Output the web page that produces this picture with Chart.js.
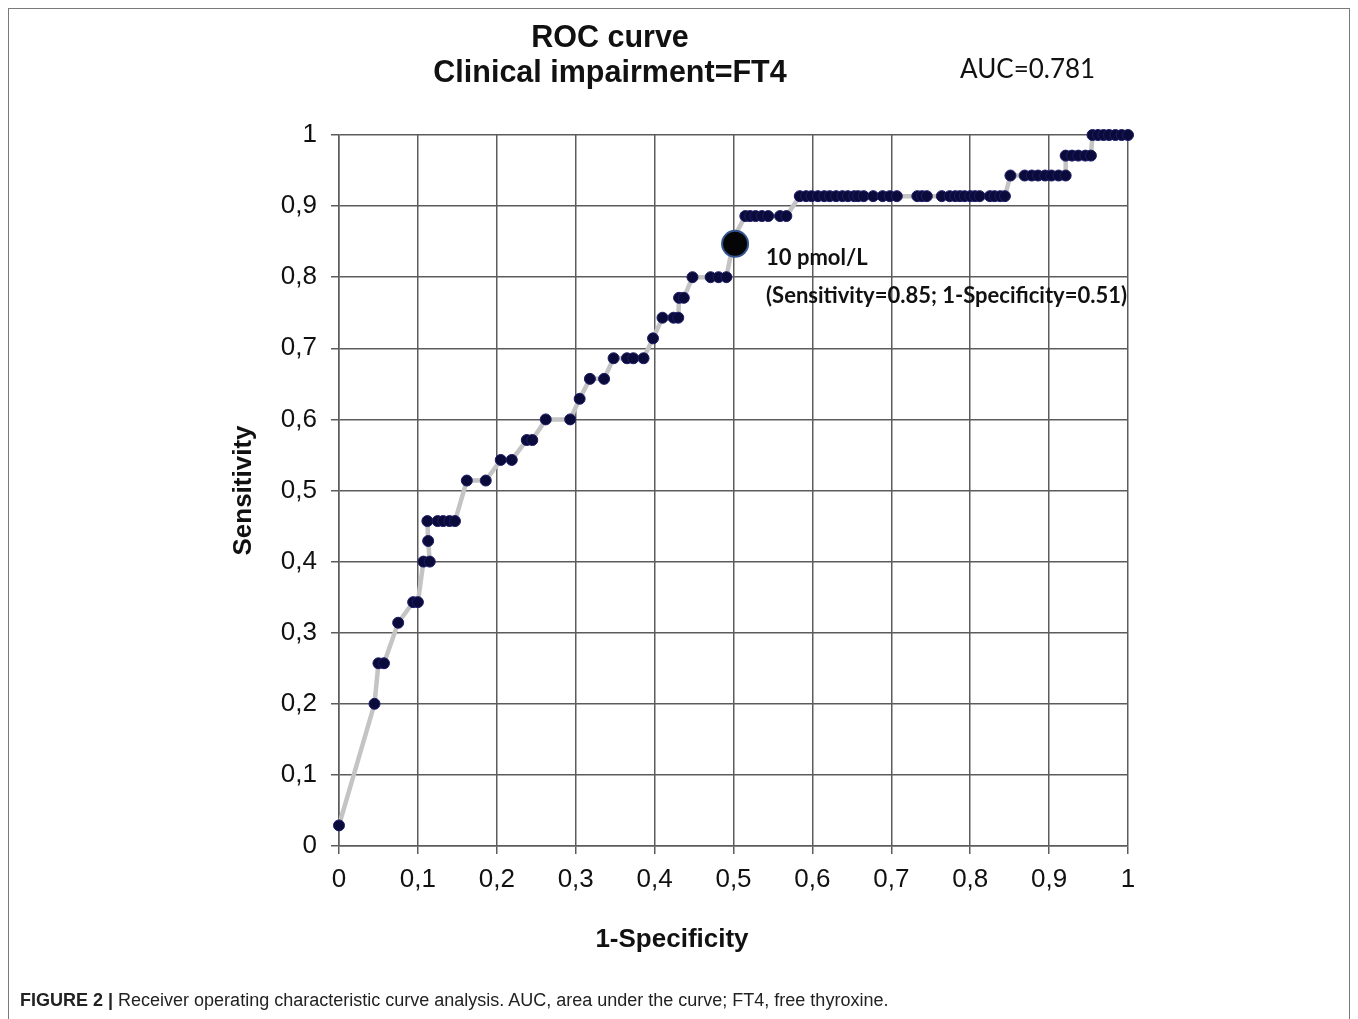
<!DOCTYPE html>
<html>
<head>
<meta charset="utf-8">
<script src="https://cdn.jsdelivr.net/npm/chart.js@4.4.0/dist/chart.umd.min.js"></script>
<style>
body { margin: 0; background: #fff; width: 1358px; height: 1019px; overflow: hidden; position: relative; }
#frame { position: absolute; left: 8px; top: 8px; width: 1342px; height: 1100px; border: 1.5px solid #7a7a7a; box-sizing: border-box; }
#title { position: absolute; left: 360px; top: 19px; width: 500px; text-align: center; font: bold 30.5px "Liberation Sans", Arial, sans-serif; line-height: 35px; color: #111; }
#auc { position: absolute; left: 960px; top: 53px; font: 26px Lato, "Liberation Sans", sans-serif; line-height: 30px; color: #111; }
#xtitle { position: absolute; left: 472px; top: 922px; width: 400px; text-align: center; font: bold 26px "Liberation Sans", Arial, sans-serif; line-height: 32px; color: #111; }
#caption { position: absolute; left: 20px; top: 990px; font: 18px "Liberation Sans", Arial, sans-serif; line-height: 20px; color: #222; }
canvas { position: absolute; left: 0; top: 0; }
</style>
</head>
<body>
<div id="frame"></div>
<canvas id="roc" width="1358" height="1019"></canvas>
<div id="title">ROC curve<br>Clinical impairment=FT4</div>
<div id="auc">AUC=0.781</div>
<div id="xtitle">1-Specificity</div>
<div id="caption"><b>FIGURE 2 |</b> Receiver operating characteristic curve analysis. AUC, area under the curve; FT4, free thyroxine.</div>
<script>
// 1-specificity / sensitivity pairs
var fpr = [0, 0.045, 0.050, 0.057, 0.075, 0.094, 0.100, 0.107, 0.115, 0.113,
    0.112, 0.125, 0.132, 0.140, 0.147, 0.162, 0.186, 0.205, 0.219, 0.238,
    0.245, 0.262, 0.293, 0.305, 0.318, 0.336, 0.348, 0.365, 0.373, 0.386,
    0.398, 0.410, 0.424, 0.430, 0.431, 0.437, 0.448, 0.471, 0.481, 0.491,
    0.501, 0.515, 0.521, 0.528, 0.536, 0.544, 0.559, 0.567,
    0.584, 0.592, 0.599, 0.607, 0.615, 0.622, 0.630, 0.638, 0.645, 0.653,
    0.658, 0.665, 0.677, 0.689, 0.698, 0.707, 0.733, 0.739, 0.745, 0.764,
    0.774, 0.781, 0.787, 0.793, 0.800, 0.806, 0.812, 0.825, 0.831, 0.838, 0.844,
    0.851, 0.869, 0.878, 0.886, 0.895, 0.903, 0.912, 0.921,
    0.921, 0.929, 0.937, 0.946, 0.953,
    0.955, 0.962, 0.969, 0.976, 0.984, 0.992, 1.0];
var tpr = [0.029, 0.2, 0.257, 0.257, 0.314, 0.343, 0.343, 0.4, 0.4, 0.429,
    0.457, 0.457, 0.457, 0.457, 0.457, 0.514, 0.514, 0.543, 0.543, 0.571,
    0.571, 0.6, 0.6, 0.629, 0.657, 0.657, 0.686, 0.686, 0.686, 0.686,
    0.714, 0.743, 0.743, 0.743, 0.771, 0.771, 0.8, 0.8, 0.8, 0.8,
    0.857, 0.886, 0.886, 0.886, 0.886, 0.886, 0.886, 0.886,
    0.914, 0.914, 0.914, 0.914, 0.914, 0.914, 0.914, 0.914, 0.914, 0.914,
    0.914, 0.914, 0.914, 0.914, 0.914, 0.914, 0.914, 0.914, 0.914, 0.914,
    0.914, 0.914, 0.914, 0.914, 0.914, 0.914, 0.914, 0.914, 0.914, 0.914, 0.914,
    0.943, 0.943, 0.943, 0.943, 0.943, 0.943, 0.943, 0.943,
    0.971, 0.971, 0.971, 0.971, 0.971,
    1, 1, 1, 1, 1, 1, 1];
var cutX = [0.502];
var cutY = [0.847];
var cutLabel = ['10 pmol/L', '(Sensitivity=0.85; 1-Specificity=0.51)'];
var axisTicks = [0, 0.1, 0.2, 0.3, 0.4, 0.5, 0.6, 0.7, 0.8, 0.9, 1];

var curvePts = fpr.map(function (x, i) { return { x: x, y: tpr[i] }; });
var cutPts = cutX.map(function (x, i) { return { x: x, y: cutY[i] }; });

function commaTick(v) {
    return (Math.round(v * 10) / 10).toString().replace('.', ',');
}

var gridColor = '#5c5c5c';

var cutNote = {
    id: 'cutNote',
    afterDatasetsDraw: function (chart) {
        var ctx = chart.ctx;
        var px = chart.scales.x.getPixelForValue(cutX[0]);
        var py = chart.scales.y.getPixelForValue(cutY[0]);
        ctx.save();
        ctx.fillStyle = '#111';
        ctx.font = 'bold 22px Lato, "Liberation Sans", sans-serif';
        ctx.textBaseline = 'middle';
        ctx.fillText(cutLabel[0], px + 31, py + 14);
        ctx.fillText(cutLabel[1], px + 31, py + 52);
        ctx.restore();
    }
};

var roc = new Chart(document.getElementById('roc').getContext('2d'), {
    type: 'scatter',
    data: {
        datasets: [{
            label: 'cut-off',
            data: cutPts,
            pointRadius: 13,
            pointBackgroundColor: '#050505',
            pointBorderColor: '#34548f',
            pointBorderWidth: 2,
            showLine: false,
            clip: false,
            order: 0
        }, {
            label: 'ROC',
            data: curvePts,
            showLine: true,
            borderColor: '#c4c4c4',
            borderWidth: 4.5,
            pointRadius: 5.5,
            pointBackgroundColor: '#0b0b3b',
            pointBorderColor: '#1c1c66',
            pointBorderWidth: 1,
            clip: false,
            order: 1
        }]
    },
    options: {
        responsive: false,
        animation: false,
        layout: { padding: { left: 228, right: 230, top: 135, bottom: 67 } },
        plugins: { legend: { display: false }, tooltip: { enabled: false } },
        scales: {
            x: {
                type: 'linear', min: 0, max: 1,
                afterBuildTicks: function (s) { s.ticks = axisTicks.map(function (v) { return { value: v }; }); },
                afterFit: function (s) { s.height = 106; },
                grid: { color: gridColor, lineWidth: 1.5, tickLength: 8 },
                border: { color: gridColor, width: 1.5 },
                ticks: { callback: commaTick, color: '#111', padding: 10, maxRotation: 0,
                    font: { family: '"Liberation Sans", Arial, sans-serif', size: 26 } }
            },
            y: {
                type: 'linear', min: 0, max: 1,
                afterBuildTicks: function (s) { s.ticks = axisTicks.map(function (v) { return { value: v }; }); },
                afterFit: function (s) { s.width = 111; },
                grid: { color: gridColor, lineWidth: 1.5, tickLength: 8 },
                border: { color: gridColor, width: 1.5 },
                ticks: { callback: commaTick, color: '#111', padding: 14,
                    font: { family: '"Liberation Sans", Arial, sans-serif', size: 26 } },
                title: { display: true, text: 'Sensitivity', color: '#111', padding: 0,
                    font: { family: '"Liberation Sans", Arial, sans-serif', size: 26, weight: 'bold' } }
            }
        }
    },
    plugins: [cutNote]
});
</script>
</body>
</html>
